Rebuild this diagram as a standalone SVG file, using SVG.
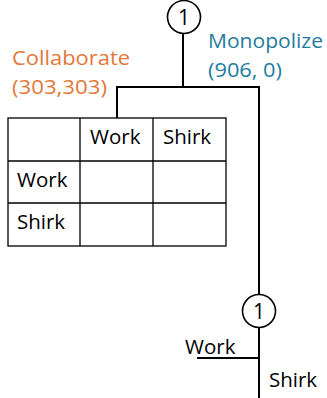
<svg xmlns="http://www.w3.org/2000/svg" width="327" height="398" viewBox="0 0 327 398">
  <style>
    .ln { stroke: #000; stroke-width: 2; fill: none; }
    .node { fill: #fff; stroke: #000; stroke-width: 1.6; }
    .cell { fill: #fff; stroke: #000; stroke-width: 1.3; }
    text { font-family: "Open Sans", "Liberation Sans", sans-serif; font-size: 20.5px; fill: #000; }
    .num { font-size: 21px; text-anchor: middle; }
    .collab { fill: #E27838; font-size: 20.5px; }
    .mono { fill: #1F7C9E; font-size: 20.5px; }
  </style>

  <rect width="327" height="398" fill="#fff"/>

  <!-- connectors -->
  <g id="connectors">
    <path class="ln" d="M183 33 V87"/>
    <path class="ln" d="M117 118 V87 H259 V294"/>
    <path class="ln" d="M259 328 V398"/>
    <path class="ln" d="M197 358 H259"/>
  </g>

  <!-- root decision node -->
  <g id="node-top">
    <circle class="node" cx="184" cy="17" r="16.5"/>
    <text class="num" x="184" y="24.5">1</text>
  </g>

  <!-- payoff labels -->
  <g id="label-collaborate">
    <text class="collab" x="12" y="65" textLength="118" lengthAdjust="spacingAndGlyphs">Collaborate</text>
    <text class="collab" x="12" y="94" textLength="95" lengthAdjust="spacingAndGlyphs">(303,303)</text>
  </g>
  <g id="label-monopolize">
    <text class="mono" x="208" y="48" textLength="115" lengthAdjust="spacingAndGlyphs">Monopolize</text>
    <text class="mono" x="208" y="77" textLength="74" lengthAdjust="spacingAndGlyphs">(906, 0)</text>
  </g>

  <!-- payoff matrix -->
  <g id="matrix">
    <rect class="cell" x="8" y="118" width="218" height="128"/>
    <path class="cell" d="M80 118 V246 M153 118 V246 M8 161 H226 M8 203 H226"/>
    <text x="90" y="144">Work</text>
    <text x="163" y="144">Shirk</text>
    <text x="17" y="187">Work</text>
    <text x="17" y="229">Shirk</text>
  </g>

  <!-- second decision node -->
  <g id="node-bottom">
    <circle class="node" cx="259" cy="311" r="16.5"/>
    <text class="num" x="259" y="318.5">1</text>
    <text x="185" y="354">Work</text>
    <text x="269" y="387">Shirk</text>
  </g>
</svg>
